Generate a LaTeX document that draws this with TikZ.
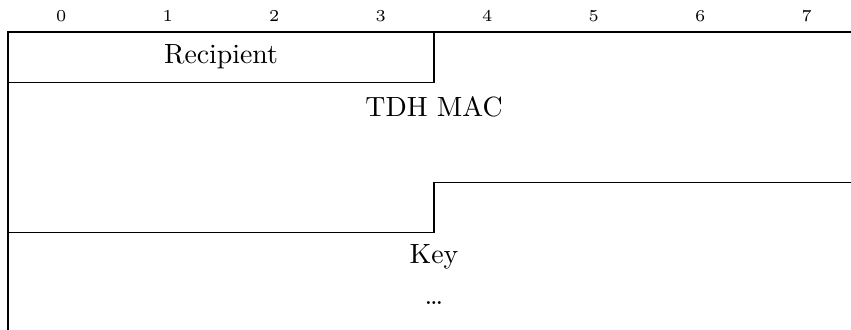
\documentclass[tikz,border=0pt]{standalone}
\usepackage{tikz}

\begin{document}
\begin{tikzpicture}[x=38.3pt,y=18pt]
  \useasboundingbox (-0.075,0.64) rectangle (7.915,-5.94);

  % bit numbers over the first word
  \foreach \i in {0,...,7}
    \node [anchor=base,font=\fontsize{6pt}{7pt}\selectfont] (bit\i) at (\i+0.5,0.22) {\i};

  \draw (0,-6) -- (0,0) -- (8,0) -- (8,-3);
  \draw (0,-1) -- (4,-1) -- (4,0);
  \draw (0,-4) -- (4,-4) -- (4,-3) -- (8,-3);

  \node (recipient) at (2,-0.5) {Recipient};
  \node (tdhmac) at (4,-1.5) {TDH MAC};
  \node (key) at (4,-4.5) {Key};
  \node [anchor=base] (more) at (4,-5.45) {\ldots};

\end{tikzpicture}
\end{document}
